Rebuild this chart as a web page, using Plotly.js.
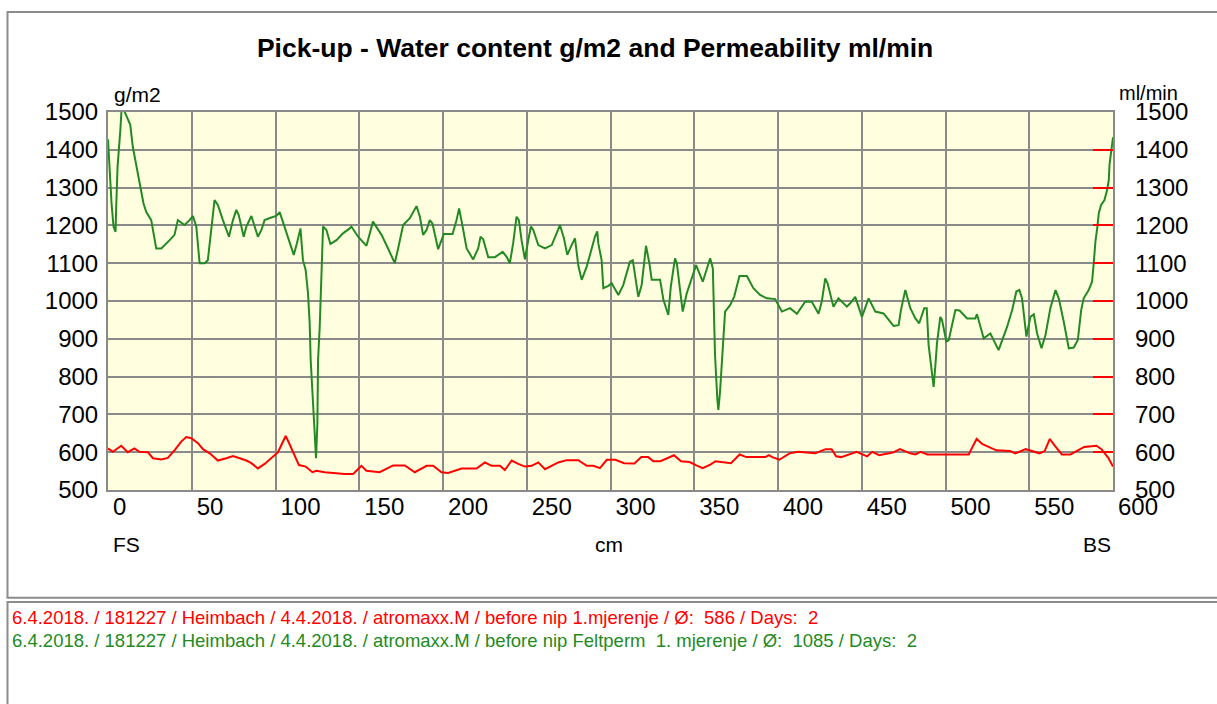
<!DOCTYPE html>
<html>
<head>
<meta charset="utf-8">
<script src="https://cdn.plot.ly/plotly-3.0.1.min.js"></script>
<style>
  html, body { margin: 0; padding: 0; background: #ffffff; }
  #chart { width: 1217px; height: 704px; }
</style>
</head>
<body>
<div id="chart"></div>
<script>
// Position along the felt (cm) and values
const permX = [0, 0.5, 1.3, 2.1, 3.3, 4.5, 4.9, 5.7, 7.3, 8.2,
  9.9, 11.8, 13.3, 14.8, 16.9, 18.8, 21.2, 22.8, 25.8, 28.8,
  31.8, 36.8, 39.7, 41.7, 45.7, 48.7, 50.7, 52.7, 54.7, 57.7,
  59.6, 63.6, 65.6, 68.6, 72.2, 74.6, 76.6, 78, 81, 82.6,
  85.6, 87, 89.5, 91.6, 93.5, 97.5, 100.5, 102.5, 104.1, 107.5,
  110.9, 112.8, 114.9, 116.4, 118, 119.4, 120.4, 121, 122.4, 123,
  124.2, 125, 125.4, 126.4, 127, 128, 128.4, 130.4, 132.8, 136.4,
  140.3, 144.3, 145.3, 149.3, 154.3, 158.2, 163.3, 167.2, 171.2, 173.2,
  176.2, 180.2, 184.2, 186.2, 188.1, 190.2, 192.1, 193.7, 197.1, 200.5,
  205.7, 208.1, 209.6, 211.7, 214.1, 218, 221, 222.4, 224, 227,
  231, 235.6, 238, 239.9, 241.9, 243.9, 245.3, 246.9, 248.9, 250.9,
  252.5, 253.9, 256.9, 260.9, 264.9, 267.8, 269.8, 272.2, 274.2, 276.8,
  278.8, 280.8, 282.8, 285.8, 288.8, 290.7, 292.1, 292.7, 294.7, 295.7,
  298.7, 300.7, 304.7, 307.6, 311.6, 313.3, 316.6, 318.6, 321.2, 323.2,
  324.6, 329.6, 331.6, 334.5, 336, 338.5, 339.6, 341.1, 343.1, 345.5,
  348.5, 351.1, 355.1, 357.5, 359.5, 361.1, 362, 362.4, 363.8, 364.4,
  365.4, 366.6, 367.4, 368.4, 371.4, 373.8, 377, 381.4, 385.3, 389.3,
  393.3, 398.3, 402.3, 407.2, 411.3, 416.2, 420.2, 424.2, 426.2, 428.2,
  429.6, 433.1, 436.1, 441.1, 443.1, 446.1, 450.1, 454.1, 458.1, 463,
  469, 472, 473.4, 476, 479, 482, 484.3, 487.3, 488.8, 489.9,
  491.5, 492.9, 493.9, 494.9, 496.9, 497.9, 500.5, 501.9, 505.9, 508.4,
  512.9, 517.8, 518.8, 522.8, 526.8, 531.7, 536.8, 539.8, 542.3, 544.1,
  545.7, 548.3, 550.7, 552.7, 554.7, 557.3, 559.7, 562.6, 565.7, 567.6,
  570.6, 573.6, 576.6, 579, 581, 582.5, 585.5, 587.5, 588.5, 589.5,
  590.7, 591.5, 592.9, 594.9, 596.5, 597.5, 597.9, 598.9, 600];
const permY = [1428, 1386, 1325, 1259, 1197, 1183, 1250, 1355, 1448, 1514,
  1501, 1479, 1466, 1408, 1355, 1311, 1258, 1236, 1214, 1139,
  1139, 1161, 1175, 1214, 1201, 1214, 1225, 1197, 1100, 1100,
  1108, 1267, 1254, 1214, 1170, 1214, 1241, 1228, 1170, 1197,
  1225, 1205, 1170, 1188, 1214, 1221, 1225, 1235, 1214, 1170,
  1122, 1153, 1192, 1108, 1082, 1020, 941, 844, 738, 676,
  584, 676, 844, 932, 1020, 1104, 1197, 1188, 1151, 1161,
  1179, 1192, 1197, 1170, 1146, 1210, 1175, 1139, 1100, 1139,
  1201, 1219, 1251, 1223, 1175, 1188, 1214, 1205, 1137, 1177,
  1177, 1214, 1245, 1197, 1139, 1110, 1139, 1170, 1163, 1116,
  1116, 1130, 1117, 1100, 1153, 1223, 1214, 1161, 1110, 1161,
  1197, 1188, 1148, 1139, 1148, 1179, 1201, 1166, 1122, 1148,
  1166, 1093, 1056, 1091, 1144, 1170, 1184, 1153, 1108, 1034,
  1040, 1047, 1016, 1042, 1104, 1108, 1011, 1042, 1146, 1100,
  1056, 1056, 1003, 963, 1038, 1113, 1100, 1038, 972, 1020,
  1060, 1095, 1051, 1082, 1113, 1086, 967, 857, 738, 712,
  760, 835, 910, 972, 989, 1011, 1066, 1066, 1034, 1016,
  1007, 1005, 972, 981, 966, 998, 998, 966, 1000, 1060,
  1047, 985, 1007, 985, 994, 1011, 958, 1007, 972, 967,
  934, 936, 976, 1029, 981, 954, 941, 981, 981, 884,
  826, 773, 826, 888, 958, 950, 893, 896, 976, 975,
  954, 954, 965, 901, 914, 870, 932, 976, 1025, 1029,
  1007, 906, 958, 965, 914, 875, 910, 981, 1029, 1007,
  945, 875, 877, 897, 976, 1007, 1029, 1051, 1100, 1157,
  1197, 1232, 1254, 1267, 1294, 1320, 1360, 1395, 1433];

const waterX = [0, 2.9, 7.9, 11.8, 15.8, 18.8, 23.8, 26.8, 31.8, 35.7,
  39.7, 43.7, 46.7, 49.7, 53.7, 56.7, 60.7, 65.6, 70.6, 74.6,
  78.6, 82.6, 85.6, 89.5, 93.5, 97.5, 101.5, 103.5, 106.1, 108,
  110.9, 114, 118, 122, 124.4, 129.4, 141.3, 146.3, 148.3, 151.3,
  154.3, 162.2, 170.2, 177.2, 183.2, 190.2, 194.1, 199.1, 203.1, 207.1,
  211.1, 220, 225, 229, 234, 236.9, 241, 244.9, 248.9, 252.9,
  256.9, 260.9, 264.9, 268.8, 273.8, 280.8, 285.8, 289.7, 293.7, 297.8,
  303, 308.1, 314.3, 318.4, 322.5, 325.6, 329.8, 333.8, 337.9, 342.1,
  347.2, 351.3, 355, 359.6, 362.7, 371.9, 377.1, 381.1, 392.5, 394.5,
  396.6, 400.8, 406.9, 412, 422.3, 425.4, 428.5, 432, 434.7, 437.7,
  441.9, 447, 453.2, 456.3, 460.4, 468.6, 472.8, 478.9, 482, 485.1,
  489.2, 513.9, 515.9, 518.6, 522.1, 526.2, 530.4, 538.6, 541.7, 547.9,
  556.1, 559.2, 562.3, 565.3, 569.5, 574.6, 582.8, 590.1, 593.1, 597.2,
  600];
const waterY = [610, 601, 617, 600, 610, 601, 600, 584, 581, 585,
  605, 628, 640, 637, 624, 608, 597, 578, 584, 590,
  584, 578, 571, 557, 569, 584, 600, 619, 643, 625,
  597, 566, 562, 547, 551, 547, 542, 542, 551, 564,
  551, 547, 565, 565, 547, 564, 564, 547, 545, 551,
  557, 557, 573, 564, 564, 553, 578, 569, 562, 564,
  573, 555, 564, 573, 579, 579, 564, 564, 558, 580,
  580, 571, 570, 587, 587, 576, 576, 585, 592, 576,
  574, 565, 558, 567, 576, 571, 594, 587, 587, 592,
  587, 580, 597, 601, 597, 603, 608, 608, 589, 587,
  594, 601, 589, 601, 592, 599, 608, 597, 594, 601,
  594, 594, 612, 635, 621, 612, 605, 603, 597, 608,
  597, 603, 635, 617, 594, 594, 614, 617, 608, 585,
  562];

const titleText = 'Pick-up - Water content g/m2 and Permeability ml/min';
const leftUnit = 'g/m2';
const rightUnit = 'ml/min';
const xUnit = 'cm';
const leftSide = 'FS';
const rightSide = 'BS';
const xTicks = [0, 50, 100, 150, 200, 250, 300, 350, 400, 450, 500, 550, 600];
const yTicks = [500, 600, 700, 800, 900, 1000, 1100, 1200, 1300, 1400, 1500];
const legendWater = '6.4.2018. / 181227 / Heimbach / 4.4.2018. / atromaxx.M / before nip 1.mjerenje / \u00D8:  586 / Days:  2';
const legendPerm = '6.4.2018. / 181227 / Heimbach / 4.4.2018. / atromaxx.M / before nip Feltperm  1. mjerenje / \u00D8:  1085 / Days:  2';

const FONT = 'Liberation Sans, Arial, sans-serif';
const GREEN = '#238a23';
const RED = '#ff0000';
const GRID = '#8a8a8a';

const traces = [
  { x: waterX, y: waterY, type: 'scatter', mode: 'lines', yaxis: 'y',
    line: { color: RED, width: 2 }, hoverinfo: 'x+y', showlegend: false },
  { x: permX, y: permY, type: 'scatter', mode: 'lines', yaxis: 'y2',
    line: { color: GREEN, width: 2 }, hoverinfo: 'x+y', showlegend: false }
];

const ann = (text, x, y, xanchor, size, color) => ({
  text: text, x: x, y: y, xref: 'paper', yref: 'paper', xanchor: xanchor, yanchor: 'middle',
  showarrow: false, font: { family: FONT, size: size, color: color }
});

const layout = {
  width: 1217, height: 704,
  margin: { l: 108, r: 104, t: 112, b: 214, pad: 0 },
  paper_bgcolor: '#ffffff',
  plot_bgcolor: '#ffffe0',
  showlegend: false,
  title: { text: '<b>' + titleText + '</b>', x: 0.489, xanchor: 'center', y: 1 - 48 / 704, yanchor: 'middle',
           font: { family: FONT, size: 26.5, color: '#000000' } },
  xaxis: {
    range: [0, 600], tickvals: xTicks, ticktext: xTicks.map(String),
    showgrid: true, gridcolor: GRID, gridwidth: 2, zeroline: false,
    showline: true, linecolor: GRID, linewidth: 2, mirror: true,
    ticks: '', ticklabelposition: 'outside right', ticklabelstandoff: -6, ticklabelshift: 4,
    tickfont: { family: FONT, size: 24, color: '#000000' }, fixedrange: true
  },
  yaxis: {
    range: [500, 1500], tickvals: yTicks, ticktext: yTicks.map(String),
    showgrid: true, gridcolor: GRID, gridwidth: 2, zeroline: false,
    showline: true, linecolor: GRID, linewidth: 2, mirror: true,
    ticks: '', ticklabelstandoff: 3,
    tickfont: { family: FONT, size: 24, color: '#000000' }, fixedrange: true
  },
  yaxis2: {
    range: [500, 1500], tickvals: yTicks, ticktext: yTicks.map(String),
    overlaying: 'y', side: 'right', showgrid: false, zeroline: false, showline: false,
    ticks: 'inside', ticklen: 20, tickwidth: 2, tickcolor: RED, ticklabelstandoff: 21,
    tickfont: { family: FONT, size: 24, color: '#000000' }, fixedrange: true
  },
  shapes: [
    { type: 'rect', xref: 'paper', yref: 'paper', x0: -0.1, x1: 1.2, y0: -0.285, y1: 1.2646,
      line: { color: '#8c8c8c', width: 2 }, fillcolor: 'rgba(0,0,0,0)', layer: 'below' },
    { type: 'rect', xref: 'paper', yref: 'paper', x0: -0.1, x1: 1.2, y0: -0.7, y1: -0.2963,
      line: { color: '#8c8c8c', width: 2 }, fillcolor: 'rgba(0,0,0,0)', layer: 'below' }
  ],
  annotations: [
    ann(leftUnit, 0.004, 1.045, 'left', 21, '#000000'),
    ann(rightUnit, 1.0035, 1.05, 'left', 20, '#000000'),
    ann(leftSide, 0.0025, -0.1455, 'left', 21, '#000000'),
    ann(xUnit, 0.499, -0.1455, 'center', 21, '#000000'),
    ann(rightSide, 1.0, -0.1455, 'right', 21, '#000000'),
    ann(legendWater, -0.098, -0.336, 'left', 18.5, RED),
    ann(legendPerm, -0.098, -0.397, 'left', 18.5, GREEN)
  ]
};

Plotly.newPlot('chart', traces, layout, { displayModeBar: false, staticPlot: true });
</script>
</body>
</html>
